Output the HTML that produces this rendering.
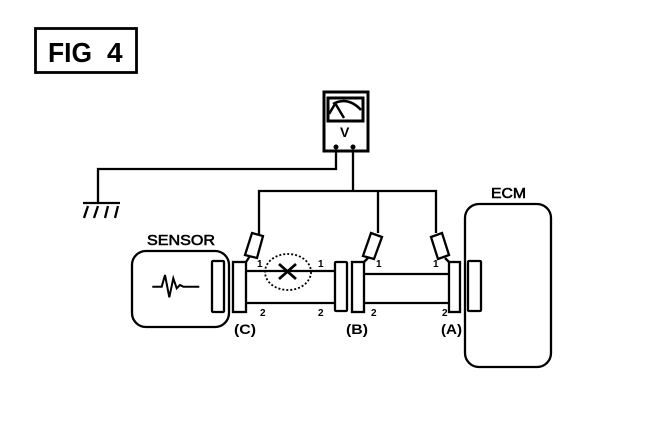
<!DOCTYPE html>
<html><head><meta charset="utf-8"><style>html,body{margin:0;padding:0;background:#fff}svg{display:block}text{font-family:"Liberation Sans",sans-serif;fill:#000}</style></head>
<body>
<svg width="672" height="436" viewBox="0 0 672 436" xmlns="http://www.w3.org/2000/svg">
<g fill="none" stroke="#000" stroke-width="2.3">
<rect x="35.5" y="28.500" width="101" height="44" stroke-width="2.800"/>
<rect x="324" y="92" width="44" height="59" stroke-width="3"/>
<rect x="328" y="98" width="35" height="23" stroke-width="3"/>
<path d="M333 104Q348 96 361 110M335 103L344 118M329 114L335 104" stroke-width="2.500"/>
<path d="M336 150V169H98V203M83 203H120" />
<path d="M353 150V191M259 234V191H436V233M378 191V233"/>
<path d="M88 206L84 218M98 206L94 218M108 206L105 218M118 206L115 218"/>
<rect x="132" y="251" width="97" height="76" rx="14"/>
<rect x="212" y="261" width="12" height="51" rx="1"/>
<rect x="233" y="262" width="13" height="50"/>
<rect x="335" y="262" width="12" height="49" rx="1"/>
<rect x="352" y="262" width="12" height="50"/>
<rect x="449" y="262" width="11" height="50"/>
<rect x="468" y="261" width="13" height="50" rx="1"/>
<rect x="465" y="204" width="86" height="163" rx="14"/>
<path d="M246 271H335M246 303H335M364 274H449M364 303H449"/>
<path d="M252 233L263 236L257 258L245 255ZM371 233L382 237L374 259L363 256ZM431 237L442 233L449 255L438 259Z"/>
<path d="M246 262L250 256M364 262L368 258M449 262L445 258"/>
<path d="M152.300 286.700H161.700L165 275L169.300 297.300L173.300 278.300L176.700 288.300L180 285L183.300 286.700H199.300" stroke-width="2"/>
<ellipse cx="288" cy="272" rx="23" ry="18" stroke-width="1.800" stroke-dasharray="2 2"/>
<path d="M279 264L296 279M296 264L279 279" stroke-width="2.800"/>
</g>
<circle cx="336" cy="147" r="2.500"/><circle cx="353" cy="147" r="2.500"/>
<text x="48" y="62" font-size="28" font-weight="bold" textLength="44" lengthAdjust="spacingAndGlyphs">FIG</text>
<text x="107" y="62" font-size="28" font-weight="bold">4</text>
<text x="340" y="137" font-size="14" font-weight="bold">V</text>
<text x="147" y="245" font-size="15" textLength="68" lengthAdjust="spacingAndGlyphs" stroke="#000" stroke-width=".6">SENSOR</text>
<text x="491" y="198" font-size="15" textLength="35" lengthAdjust="spacingAndGlyphs" stroke="#000" stroke-width=".6">ECM</text>
<text x="234" y="334" font-size="14" font-weight="bold" textLength="22" lengthAdjust="spacingAndGlyphs">(C)</text>
<text x="346" y="334" font-size="14" font-weight="bold" textLength="22" lengthAdjust="spacingAndGlyphs">(B)</text>
<text x="441" y="334" font-size="14" font-weight="bold" textLength="21" lengthAdjust="spacingAndGlyphs">(A)</text>
<g font-size="10" font-weight="bold">
<text x="257" y="267">1</text><text x="318" y="267">1</text>
<text x="376" y="267">1</text><text x="433" y="267">1</text>
<text x="260" y="316">2</text><text x="318" y="316">2</text>
<text x="371" y="316">2</text><text x="442" y="316">2</text>
</g>
</svg>
</body></html>
